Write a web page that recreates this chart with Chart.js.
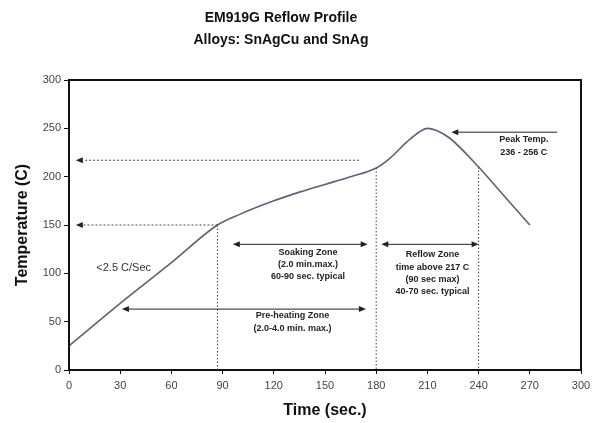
<!DOCTYPE html>
<html>
<head>
<meta charset="utf-8">
<script src="https://cdn.jsdelivr.net/npm/chart.js@4.4.1/dist/chart.umd.min.js"></script>
<style>
  html, body { margin: 0; padding: 0; background: #fff; }
  #wrap { width: 600px; height: 423px; }
</style>
</head>
<body>
<div id="wrap"><canvas id="chart"></canvas></div>
<script>
// profile curve (sec, deg C)
const times = [0, 30, 60, 87, 100, 120, 135, 150, 165, 180, 188, 198, 205, 210, 215, 223, 240, 255, 270];
const temps = [25, 69, 111, 150, 161, 175, 184, 192, 200, 209, 219, 236, 246, 250, 248, 240, 210, 180, 150];

const xTicks = [0, 30, 60, 90, 120, 150, 180, 210, 240, 270, 300];
const yTicks = [0, 50, 100, 150, 200, 250, 300];

const titleLines = ['EM919G Reflow Profile', 'Alloys: SnAgCu and SnAg'];

// dashed guides pointing to the temperature axis: [fromX, toX, temp]
const guideArrows = [[170, 4, 217], [87, 4, 150]];
// dotted zone boundaries: [time, topTemp]
const zoneLines = [[87, 150], [180, 209], [240, 210]];
// double arrows: [x1, x2, temp]
const spanArrows = [[96, 175, 130], [183, 240, 130], [31, 174, 63]];
// single arrow to peak: [fromX, toX, temp]
const peakArrow = [286, 224, 246];

// text blocks anchored at (time, temp) of the first line
const labels = [
  { x: 140, y: 122, lines: ['Soaking Zone', '(2.0 min.max.)', '60-90 sec. typical'] },
  { x: 213, y: 119, lines: ['Reflow Zone', 'time above 217 C', '(90 sec max)', '40-70 sec. typical'] },
  { x: 131, y: 56, lines: ['Pre-heating Zone', '(2.0-4.0 min. max.)'] },
  { x: 266.5, y: 238, lines: ['Peak Temp.', '236 - 256 C'] }
];
const slopeLabel = { x: 16, y: 106, text: '<2.5 C/Sec' };

function arrowHead(ctx, x, y, dir) {
  ctx.beginPath();
  ctx.moveTo(x, y);
  ctx.lineTo(x - dir * 7, y - 3);
  ctx.lineTo(x - dir * 7, y + 3);
  ctx.closePath();
  ctx.fill();
}

const annotations = {
  id: 'annotations',
  afterDatasetsDraw(chart) {
    const { ctx, chartArea: a, scales: { x, y } } = chart;
    ctx.save();

    // frame
    ctx.strokeStyle = '#111';
    ctx.lineWidth = 2;
    ctx.strokeRect(a.left, a.top, a.right - a.left, a.bottom - a.top);

    ctx.strokeStyle = '#444';
    ctx.fillStyle = '#222';
    ctx.lineWidth = 1;

    ctx.setLineDash([2, 2]);
    guideArrows.forEach(([x1, x2, t]) => {
      const py = y.getPixelForValue(t);
      ctx.beginPath();
      ctx.moveTo(x.getPixelForValue(x1), py);
      ctx.lineTo(x.getPixelForValue(x2) + 4, py);
      ctx.stroke();
    });
    ctx.setLineDash([1.5, 2]);
    zoneLines.forEach(([t, top]) => {
      const px = x.getPixelForValue(t);
      ctx.beginPath();
      ctx.moveTo(px, y.getPixelForValue(top));
      ctx.lineTo(px, a.bottom);
      ctx.stroke();
    });
    ctx.setLineDash([]);
    guideArrows.forEach(([x1, x2, t]) => {
      arrowHead(ctx, x.getPixelForValue(x2), y.getPixelForValue(t), -1);
    });

    ctx.strokeStyle = '#222';
    spanArrows.forEach(([x1, x2, t]) => {
      const p1 = x.getPixelForValue(x1), p2 = x.getPixelForValue(x2);
      const py = y.getPixelForValue(t);
      ctx.beginPath();
      ctx.moveTo(p1 + 4, py);
      ctx.lineTo(p2 - 4, py);
      ctx.stroke();
      arrowHead(ctx, p1, py, -1);
      arrowHead(ctx, p2, py, 1);
    });
    {
      const [x1, x2, t] = peakArrow;
      const py = y.getPixelForValue(t);
      ctx.beginPath();
      ctx.moveTo(x.getPixelForValue(x1), py);
      ctx.lineTo(x.getPixelForValue(x2) + 4, py);
      ctx.stroke();
      arrowHead(ctx, x.getPixelForValue(x2), py, -1);
    }

    ctx.fillStyle = '#222';
    ctx.textAlign = 'center';
    ctx.textBaseline = 'middle';
    ctx.font = 'bold 9px "Liberation Sans", Arial, sans-serif';
    labels.forEach(l => {
      const px = x.getPixelForValue(l.x), py = y.getPixelForValue(l.y);
      l.lines.forEach((s, i) => ctx.fillText(s, px, py + i * 12.3));
    });

    ctx.textAlign = 'left';
    ctx.font = '11px "Liberation Sans", Arial, sans-serif';
    ctx.fillStyle = '#333';
    ctx.fillText(slopeLabel.text, x.getPixelForValue(slopeLabel.x), y.getPixelForValue(slopeLabel.y));

    // chart title
    ctx.textAlign = 'center';
    ctx.fillStyle = '#111';
    ctx.font = 'bold 14px "Liberation Sans", Arial, sans-serif';
    titleLines.forEach((s, i) => ctx.fillText(s, 281, 18 + i * 22));
    ctx.restore();
  }
};

new Chart(document.getElementById('chart'), {
  type: 'scatter',
  data: {
    datasets: [{
      data: times.map((t, i) => ({ x: t, y: temps[i] })),
      showLine: true,
      borderColor: '#5d6178',
      borderWidth: 1.6,
      pointRadius: 0,
      tension: 0.4,
      cubicInterpolationMode: 'monotone'
    }]
  },
  options: {
    responsive: true,
    maintainAspectRatio: false,
    animation: false,
    layout: { padding: { left: 0, right: 19, top: 80, bottom: 0 } },
    plugins: {
      legend: { display: false },
      tooltip: { enabled: false },
      title: { display: false }
    },
    scales: {
      x: {
        type: 'linear',
        min: 0, max: 300,
        afterBuildTicks: s => { s.ticks = xTicks.map(v => ({ value: v })); },
        afterFit: s => { s.height = 53; },
        grid: { drawOnChartArea: false, color: '#111', tickLength: 4 },
        border: { display: false },
        ticks: { color: '#444', padding: 5, font: { family: '"Liberation Sans", Arial, sans-serif', size: 11 } },
        title: {
          display: true, text: 'Time (sec.)', color: '#111',
          font: { family: '"Liberation Sans", Arial, sans-serif', size: 16, weight: 'bold' },
          padding: { top: 0, bottom: 3 }
        }
      },
      y: {
        min: 0, max: 300,
        afterBuildTicks: s => { s.ticks = yTicks.map(v => ({ value: v })); },
        afterFit: s => { s.width = 69; },
        grid: { drawOnChartArea: false, color: '#111', tickLength: 5 },
        border: { display: false },
        ticks: { color: '#444', padding: 3, font: { family: '"Liberation Sans", Arial, sans-serif', size: 11 } },
        title: {
          display: true, text: 'Temperature (C)', color: '#111',
          font: { family: '"Liberation Sans", Arial, sans-serif', size: 16, weight: 'bold' },
          padding: { top: 13, bottom: 0 }
        }
      }
    }
  },
  plugins: [annotations]
});
</script>
</body>
</html>
